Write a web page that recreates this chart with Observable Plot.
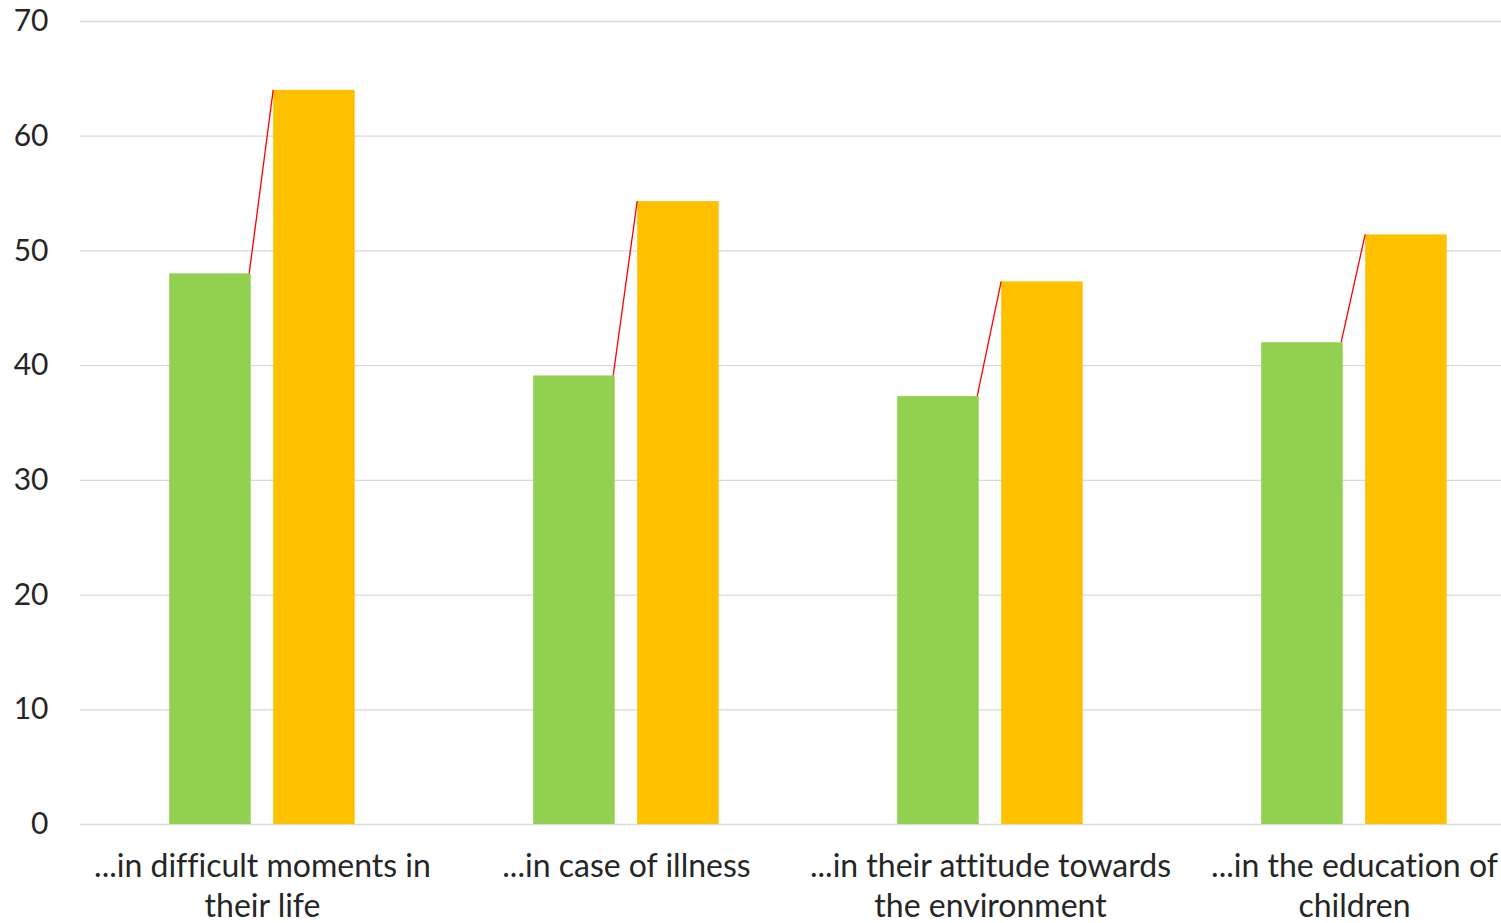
<!DOCTYPE html>
<html><head><meta charset="utf-8">
<script src="https://cdn.jsdelivr.net/npm/d3@7"></script>
<script src="https://cdn.jsdelivr.net/npm/@observablehq/plot@0.6"></script>
<style>html,body{margin:0;padding:0;background:#fff;overflow:hidden} #chart svg{display:block} #chart svg text{font-variant-ligatures:none}</style>
</head><body><div id="chart"></div>
<script>
// ---- data ----
const categories = [
  "...in difficult moments in their life",
  "...in case of illness",
  "...in their attitude towards the environment",
  "...in the education of children"
];
const categoryLabels = [
  "...in difficult moments in\ntheir life",
  "...in case of illness",
  "...in their attitude towards\nthe environment",
  "...in the education of\nchildren"
];
const series = ["green", "orange"];
const greenValues = [48.0, 39.1, 37.3, 42.0];
const orangeValues = [64.0, 54.3, 47.3, 51.4];
const yTicks = [0, 10, 20, 30, 40, 50, 60, 70];

// ---- table ----
const rows = categories.flatMap((c, i) => [
  {category: c, series: "green", value: greenValues[i]},
  {category: c, series: "orange", value: orangeValues[i]}
]);
const labelOf = new Map(categories.map((c, i) => [c, categoryLabels[i]]));

// ---- layout / style ----
const W = 1501, H = 923;
const STEP = 364;
const GL = 89.2, BW = 81.5, GAP = 22.5;
const green = "#92D050", orange = "#FFC000";

function connectors(index, scales) {
  const g = d3.create("svg:g");
  categories.forEach((c, i) => {
    const x0 = scales.x(c);
    g.append("line")
      .attr("x1", x0 + GL + BW - 1.5)
      .attr("y1", scales.y(greenValues[i]))
      .attr("x2", x0 + GL + BW + GAP)
      .attr("y2", scales.y(orangeValues[i]))
      .attr("stroke", "#FF0000")
      .attr("stroke-width", 1.3);
  });
  return g.node();
}

const chart = Plot.plot({
  width: W,
  height: H,
  marginTop: 21,
  marginBottom: 99,
  marginLeft: 80,
  marginRight: 0,
  style: {fontFamily: "Lato, 'Open Sans', sans-serif", fontSize: "30px", color: "#262626", background: "#fff"},
  x: {domain: categories, range: [79.5, 79.5 + STEP * categories.length], padding: 0},
  y: {domain: [0, 70]},
  marks: [
    Plot.gridY(yTicks, {stroke: "#d9d9d9", strokeOpacity: 1, strokeWidth: 1.3}),
    Plot.barY(rows.filter(d => d.series === "green"), {x: "category", y: "value", fill: green, insetLeft: GL, insetRight: STEP - GL - BW}),
    Plot.barY(rows.filter(d => d.series === "orange"), {x: "category", y: "value", fill: orange, insetLeft: GL + BW + GAP, insetRight: STEP - GL - 2 * BW - GAP}),
    connectors,
    Plot.axisY(yTicks, {tickSize: 0, tickPadding: 32, fontSize: 30, label: null}),
    Plot.axisX({tickSize: 0, tickPadding: 24, fontSize: 32, lineHeight: 1.25, tickFormat: d => labelOf.get(d), label: null})
  ]
});
document.getElementById("chart").appendChild(chart);
</script>
</body></html>
